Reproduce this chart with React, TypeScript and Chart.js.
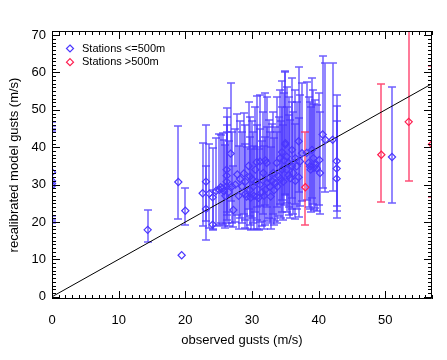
import React, { useEffect, useRef } from 'react';
import { Chart, registerables } from 'chart.js';

Chart.register(...registerables);

// ---- data ----
const blueX = [
  0, 0, 0, 0, 14.35, 18.95, 19.45, 20.0, 22.6, 23.1,
  23.1, 23.6, 24.1, 24.1, 24.6, 25.1, 25.6, 25.3, 25.8, 26.0,
  26.2, 26.2, 26.2, 26.2, 26.8, 27.2, 27.5, 27.8, 27.0, 26.5,
  28.0, 28.2, 28.5, 28.8, 29.0, 29.0, 29.2, 29.5, 29.7, 29.7,
  29.8, 30.0, 30.2, 30.3, 30.5, 30.7, 30.7, 30.7, 31.0, 31.2,
  31.2, 31.5, 31.7, 31.8, 32.0, 32.0, 32.2, 32.3, 32.5, 32.7,
  32.8, 33.0, 33.2, 33.3, 33.5, 33.7, 33.8, 34.0, 34.2, 34.3,
  34.5, 34.5, 34.7, 34.8, 35.0, 35.0, 35.2, 35.2, 35.5, 35.5,
  35.7, 36.0, 36.0, 36.2, 36.5, 36.5, 36.7, 37.0, 37.0, 37.2,
  37.5, 38.2, 38.5, 38.7, 38.8, 39.0, 39.2, 39.3, 39.5, 39.7,
  40.1, 40.2, 40.6, 41.0, 42.1, 42.7, 42.7, 42.7, 51.0,
];
const blueY = [
  33.3, 31.0, 30.3, 29.7, 17.9, 30.7, 11.1, 23.0, 27.7, 30.8,
  23.5, 27.6, 26.6, 19.3, 28.3, 28.6, 29.0, 29.3, 28.2, 27.0,
  34.0, 32.4, 30.8, 29.5, 38.3, 23.2, 30.0, 32.7, 29.5, 28.0,
  27.0, 31.5, 29.5, 33.0, 30.8, 27.5, 26.8, 35.0, 32.2, 28.6,
  26.5, 31.5, 29.5, 27.0, 34.0, 30.8, 26.8, 36.0, 26.5, 36.2,
  30.0, 28.0, 33.1, 27.0, 28.6, 36.5, 35.8, 30.5, 31.7, 29.5,
  26.8, 31.0, 33.1, 28.5, 30.4, 35.8, 29.5, 32.2, 37.1, 31.5,
  34.0, 38.7, 30.8, 36.5, 41.1, 40.7, 37.5, 34.0, 35.8, 32.5,
  31.7, 39.3, 35.0, 33.1, 37.1, 31.0, 34.9, 41.6, 32.0, 36.2,
  38.4, 38.5, 35.8, 34.9, 34.0, 39.3, 37.1, 34.5, 35.3, 34.4,
  36.6, 33.1, 43.4, 42.0, 42.0, 36.3, 34.3, 31.6, 37.4,
];
const blueLow = [
  21.5, 20.8, 20.2, 19.6, 14.6, 20.7, 11.1, 19.3, 18.8, 20.3,
  15.3, 18.5, 18.0, 17.9, 19.0, 19.3, 19.5, 19.8, 18.9, 18.4,
  22.8, 21.8, 20.6, 19.7, 25.6, 18.6, 20.1, 21.9, 19.8, 18.8,
  18.1, 21.1, 19.8, 22.1, 20.6, 18.4, 18.0, 23.4, 21.6, 19.2,
  17.8, 21.1, 19.8, 18.1, 22.8, 20.6, 18.0, 24.1, 17.8, 24.3,
  20.1, 18.8, 22.2, 18.1, 19.2, 24.5, 24.0, 20.4, 21.2, 19.8,
  18.0, 20.8, 22.2, 19.1, 20.4, 24.0, 19.8, 21.6, 24.9, 21.1,
  22.8, 25.9, 20.6, 24.5, 27.5, 27.3, 25.1, 22.8, 24.0, 21.8,
  21.2, 26.3, 23.5, 22.2, 24.9, 20.8, 23.4, 27.9, 21.4, 24.3,
  25.7, 25.8, 24.0, 23.4, 22.8, 26.3, 24.9, 23.1, 23.7, 23.0,
  24.5, 22.2, 29.1, 28.1, 28.4, 24.3, 23.0, 21.2, 25.0,
];
const blueHigh = [
  46.8, 45.8, 45.0, 44.3, 23.3, 45.8, 11.1, 29.0, 41.2, 46.0,
  35.0, 41.0, 39.8, 28.5, 42.5, 43.5, 43.8, 43.2, 42.0, 40.5,
  50.5, 48.2, 46.0, 44.0, 57.3, 35.0, 44.8, 48.8, 44.0, 41.8,
  40.3, 47.0, 44.0, 49.2, 46.0, 41.0, 40.0, 52.2, 48.0, 42.7,
  39.6, 47.0, 44.0, 40.3, 50.7, 46.0, 40.0, 53.7, 39.5, 54.0,
  44.8, 41.8, 49.4, 40.3, 42.7, 54.5, 53.4, 45.5, 47.3, 44.0,
  40.0, 46.3, 49.4, 42.5, 45.4, 53.4, 44.0, 48.0, 55.4, 47.0,
  50.7, 57.7, 46.0, 54.5, 60.5, 60.0, 56.0, 50.7, 53.4, 48.5,
  47.3, 58.6, 52.2, 49.4, 55.4, 46.3, 52.1, 61.5, 47.7, 54.0,
  57.3, 57.4, 53.4, 52.1, 50.7, 58.6, 55.4, 51.5, 52.6, 51.3,
  54.6, 49.4, 64.5, 62.6, 62.6, 54.1, 51.0, 47.1, 56.0,
];
const redX = [38.0, 49.4, 53.5, 57.0];
const redY = [29.3, 38.0, 46.8, 40.8];
const redLow = [19.3, 25.3, 30.9, 26.8];
const redHigh = [44.0, 56.8, 71.5, 61.7];
const lineX = [0, 57];
const lineY = [0, 57];
const xTicks = [0, 10, 20, 30, 40, 50];
const yTicks = [0, 10, 20, 30, 40, 50, 60, 70];
const legendLabels = ['Stations <=500m', 'Stations >500m'];

const BLUE = 'rgb(75,55,255)';
const BLUE_BAR = 'rgba(75,55,255,0.8)';
const RED = 'rgb(255,30,80)';
const RED_BAR = 'rgba(255,35,85,0.8)';
const FONT = '"Liberation Sans", Arial, Helvetica, sans-serif';

const errorBarsPlugin = {
  id: 'errorBars',
  beforeDatasetsDraw(chart: any) {
    const { ctx, chartArea, scales } = chart;
    const xs = scales.x;
    const ys = scales.y;
    ctx.save();
    ctx.beginPath();
    ctx.rect(chartArea.left, chartArea.top, chartArea.right - chartArea.left, chartArea.bottom - chartArea.top);
    ctx.clip();
    ctx.lineWidth = 1.5;
    const draw = (X: number[], L: number[], H: number[], color: string) => {
      ctx.strokeStyle = color;
      for (let i = 0; i < X.length; i++) {
        if (H[i] - L[i] < 0.01) continue;
        const px = Math.round(xs.getPixelForValue(X[i]));
        const pl = Math.round(ys.getPixelForValue(L[i]));
        const ph = Math.round(ys.getPixelForValue(H[i]));
        ctx.beginPath();
        ctx.moveTo(px, pl);
        ctx.lineTo(px, ph);
        ctx.moveTo(px - 4, pl);
        ctx.lineTo(px + 4, pl);
        ctx.moveTo(px - 4, ph);
        ctx.lineTo(px + 4, ph);
        ctx.stroke();
      }
    };
    draw(blueX, blueLow, blueHigh, BLUE_BAR);
    draw(redX, redLow, redHigh, RED_BAR);
    ctx.restore();
  },
};

const frameTicksPlugin = {
  id: 'frameTicks',
  afterDraw(chart: any) {
    const { ctx, chartArea, scales } = chart;
    const xs = scales.x;
    const ys = scales.y;
    const L = chartArea.left, R = chartArea.right, T = chartArea.top, B = chartArea.bottom;
    ctx.save();
    ctx.strokeStyle = '#000';
    ctx.lineWidth = 1;
    ctx.beginPath();
    ctx.rect(Math.round(L) + 0.5, Math.round(T) + 0.5, Math.round(R - L) - 1, Math.round(B - T) - 1);
    ctx.stroke();
    ctx.beginPath();
    for (let v = Math.ceil(xs.min); v <= xs.max; v++) {
      const len = v % 10 === 0 ? 8 : 4;
      const p = Math.round(xs.getPixelForValue(v)) + 0.5;
      ctx.moveTo(p, B);
      ctx.lineTo(p, B - len);
      ctx.moveTo(p, T);
      ctx.lineTo(p, T + len);
    }
    for (let v = Math.ceil(ys.min); v <= ys.max; v++) {
      const len = v % 10 === 0 ? 8 : 4;
      const p = Math.round(ys.getPixelForValue(v)) + 0.5;
      ctx.moveTo(L, p);
      ctx.lineTo(L + len, p);
      ctx.moveTo(R, p);
      ctx.lineTo(R - len, p);
    }
    ctx.stroke();

    // legend
    const colors = [BLUE, RED];
    ctx.font = '11px ' + FONT;
    ctx.textBaseline = 'middle';
    ctx.textAlign = 'left';
    legendLabels.forEach((t, i) => {
      const cx = 70;
      const cy = 48.5 + i * 13.7;
      ctx.strokeStyle = colors[i];
      ctx.lineWidth = 1.2;
      ctx.beginPath();
      ctx.moveTo(cx, cy - 3.5);
      ctx.lineTo(cx + 3.5, cy);
      ctx.lineTo(cx, cy + 3.5);
      ctx.lineTo(cx - 3.5, cy);
      ctx.closePath();
      ctx.stroke();
      ctx.fillStyle = '#000';
      ctx.fillText(t, 82, cy);
    });
    ctx.restore();
  },
};

export default function App() {
  const ref = useRef<HTMLCanvasElement | null>(null);
  useEffect(() => {
    if (!ref.current) return;
    const chart = new Chart(ref.current, {
      type: 'scatter',
      data: {
        datasets: [
          {
            label: legendLabels[0],
            data: blueX.map((x, i) => ({ x, y: blueY[i] })),
            pointStyle: 'rectRot',
            pointRadius: 3.6,
            borderWidth: 1.2,
            borderColor: BLUE,
            backgroundColor: 'rgba(0,0,0,0)',
            clip: 0,
          } as any,
          {
            label: legendLabels[1],
            data: redX.map((x, i) => ({ x, y: redY[i] })),
            pointStyle: 'rectRot',
            pointRadius: 3.6,
            borderWidth: 1.2,
            borderColor: RED,
            backgroundColor: 'rgba(0,0,0,0)',
            clip: 0,
          } as any,
          {
            type: 'line',
            label: '1:1',
            data: lineX.map((x, i) => ({ x, y: lineY[i] })),
            borderColor: '#000',
            borderWidth: 1,
            pointRadius: 0,
            showLine: true,
            fill: false,
            clip: 0,
          } as any,
        ],
      },
      options: {
        animation: false,
        responsive: false,
        devicePixelRatio: 1,
        layout: { padding: { top: 31, right: 15, left: 0, bottom: 0 } },
        plugins: {
          legend: { display: false },
          tooltip: { enabled: false },
        },
        scales: {
          x: {
            type: 'linear',
            min: 0,
            max: 57,
            afterFit: (s: any) => { s.height = 61; },
            afterBuildTicks: (s: any) => { s.ticks = xTicks.map((v) => ({ value: v })); },
            grid: { display: false, drawTicks: false },
            border: { display: false },
            ticks: {
              color: '#000',
              padding: 14,
              maxRotation: 0,
              font: { family: FONT, size: 13 },
            },
            title: {
              display: true,
              text: 'observed gusts (m/s)',
              color: '#000',
              font: { family: FONT, size: 13 },
              padding: { top: 0, bottom: 12 },
            },
          },
          y: {
            type: 'linear',
            min: -0.6,
            max: 71.1,
            afterFit: (s: any) => { s.width = 52; },
            afterBuildTicks: (s: any) => { s.ticks = yTicks.map((v) => ({ value: v })); },
            grid: { display: false, drawTicks: false },
            border: { display: false },
            ticks: {
              color: '#000',
              padding: 6,
              font: { family: FONT, size: 13 },
            },
            title: {
              display: true,
              text: 'recalibrated model gusts (m/s)',
              color: '#000',
              font: { family: FONT, size: 13 },
              padding: { top: 7, bottom: 0 },
            },
          },
        },
      } as any,
      plugins: [errorBarsPlugin, frameTicksPlugin],
    });
    return () => chart.destroy();
  }, []);
  return (
    <div style={{ position: 'absolute', left: 0, top: 0, width: 447, height: 360, background: '#fff' }}>
      <canvas ref={ref} width={447} height={360} />
    </div>
  );
}
